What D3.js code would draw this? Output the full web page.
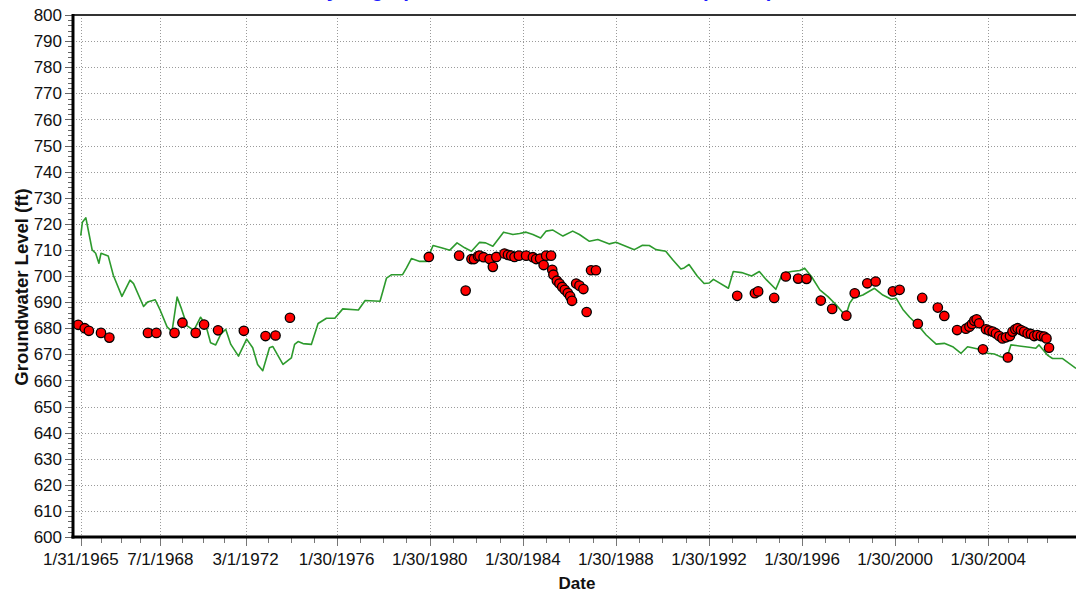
<!DOCTYPE html>
<html>
<head>
<meta charset="utf-8">
<script src="https://cdn.jsdelivr.net/npm/d3@7"></script>
<style>
  html, body { margin: 0; padding: 0; background: #ffffff; }
  svg { display: block; font-family: Arial, "Liberation Sans", sans-serif; }
</style>
</head>
<body>
<svg id="chart" width="1076" height="594"></svg>
<script>
// ---------------- DATA (decimal years) ----------------
const titleText = "Hydrograph for Well 06N/03W-28B001M (NGVD)";
const xAxisTitle = "Date";
const yAxisTitle = "Groundwater Level (ft)";

const tickDates  = ["1965-01-31","1968-07-01","1972-03-01","1976-01-30","1980-01-30","1984-01-30","1988-01-30","1992-01-30","1996-01-30","2000-01-30","2004-01-30"];
const tickLabels = ["1/31/1965","7/1/1968","3/1/1972","1/30/1976","1/30/1980","1/30/1984","1/30/1988","1/30/1992","1/30/1996","1/30/2000","1/30/2004"];
const yTicks = [600,610,620,630,640,650,660,670,680,690,700,710,720,730,740,750,760,770,780,790,800];

// Simulated groundwater level (green line)
const simYears = [1965.08,1965.15,1965.30,1965.44,1965.57,1965.72,1965.86,1965.95,1966.26,1966.48,1966.85,1967.20,1967.35,1967.78,1967.95,1968.28,1968.50,1968.79,1969.00,1969.22,1969.41,1969.65,1969.94,1970.23,1970.45,1970.66,1970.88,1971.10,1971.31,1971.53,1971.86,1972.21,1972.47,1972.68,1972.90,1973.19,1973.33,1973.77,1974.13,1974.27,1974.42,1974.63,1974.99,1975.28,1975.64,1976.00,1976.34,1977.01,1977.30,1977.94,1978.08,1978.22,1978.44,1978.91,1979.08,1979.29,1979.65,1979.94,1980.08,1980.22,1980.58,1980.94,1981.25,1981.58,1981.87,1982.22,1982.48,1982.79,1983.25,1983.65,1983.94,1984.22,1984.51,1984.84,1985.08,1985.37,1985.80,1986.22,1986.51,1986.94,1987.30,1987.80,1988.08,1988.87,1989.22,1989.51,1989.80,1990.22,1990.51,1990.87,1991.01,1991.22,1991.58,1991.87,1992.08,1992.27,1992.91,1993.12,1993.48,1993.91,1994.24,1994.55,1994.95,1995.24,1995.62,1995.98,1996.19,1996.48,1996.84,1997.19,1997.55,1997.95,1998.12,1998.27,1998.69,1999.19,1999.55,1999.91,2000.12,2000.41,2000.70,2001.05,2001.41,2001.84,2002.19,2002.55,2002.91,2003.19,2003.69,2004.05,2004.34,2004.55,2004.87,2005.05,2005.41,2005.84,2006.12,2006.26,2006.62,2006.84,2007.26,2007.85];
const simLevels = [715.5,720.6,722.3,715.9,710.0,708.7,704.9,708.7,707.7,700.3,692.2,698.4,697.1,688.3,690.0,690.9,686.8,680.5,678.7,691.9,687.4,680.9,679.2,684.2,681.3,674.4,673.6,677.7,679.6,673.8,669.3,675.8,672.5,666.1,663.7,672.5,673.0,666.1,668.6,673.8,674.9,674.1,673.8,681.8,683.8,683.8,687.4,687.0,690.6,690.3,694.7,699.2,700.5,700.5,703.1,706.7,705.6,705.6,708.6,711.7,710.8,709.9,712.7,710.8,709.5,712.9,712.7,711.4,716.8,715.9,716.3,716.8,715.9,714.6,717.2,717.6,715.3,717.2,715.9,713.3,714.0,712.3,712.9,710.1,711.8,711.7,710.1,709.5,706.3,702.7,703.1,704.4,699.9,697.1,697.3,698.7,695.3,701.7,701.3,700.0,701.7,698.5,694.9,701.0,701.7,702.1,703.0,699.8,694.7,692.1,688.9,684.7,689.5,691.5,692.7,695.3,692.7,691.1,691.5,687.2,684.2,681.2,677.4,673.9,674.2,672.9,670.4,672.9,671.9,670.4,670.1,669.3,668.4,673.6,673.2,672.7,672.3,673.6,669.7,668.4,668.4,664.6];

// Observed groundwater level (red dots)
const obsYears = [1964.97,1965.25,1965.43,1965.95,1966.31,1967.97,1968.33,1969.11,1969.45,1970.02,1970.38,1970.98,1972.09,1973.02,1973.45,1974.07,
  1980.04,1981.34,1981.62,1981.87,1981.98,1982.15,1982.22,1982.39,1982.65,1982.79,1982.94,1983.29,1983.44,1983.58,1983.72,1983.91,1984.22,1984.51,1984.65,1984.82,1984.97,1985.08,1985.29,1985.34,1985.39,1985.54,1985.65,1985.77,1985.88,1986.01,1986.11,1986.19,1986.37,1986.51,1986.68,1986.82,1987.01,1987.22,
  1993.29,1994.05,1994.19,1994.88,1995.38,1995.91,1996.27,1996.88,1997.37,1997.98,1998.34,1998.88,1999.24,1999.98,2000.27,2001.05,2001.24,2001.91,2002.19,2002.74,2003.12,2003.27,2003.38,2003.48,2003.58,2003.69,2003.85,2003.98,2004.12,2004.27,2004.41,2004.55,2004.69,2004.84,2004.92,2005.01,2005.12,2005.24,2005.34,2005.48,2005.62,2005.77,2005.91,2006.05,2006.19,2006.34,2006.48,2006.58,2006.69];
const obsLevels = [681.3,680.0,679.0,678.2,676.4,678.2,678.2,678.2,682.1,678.2,681.4,679.2,679.0,677.0,677.2,684.0,
  707.3,707.8,694.4,706.5,706.5,707.6,707.8,707.2,706.5,703.5,707.3,708.6,708.1,707.8,707.3,707.8,707.8,707.2,706.5,706.7,704.2,707.8,707.8,702.4,700.5,698.2,697.1,695.8,694.7,693.5,692.2,690.5,697.1,696.3,695.0,686.2,702.2,702.2,
  692.4,693.4,694.1,691.6,699.8,699.0,698.9,690.6,687.4,684.8,693.4,697.2,697.9,694.1,694.7,681.7,691.6,687.9,684.7,679.3,679.8,680.6,681.6,682.9,683.4,681.9,671.9,679.6,679.1,678.7,678.0,677.0,676.1,676.5,668.8,677.0,678.7,679.6,680.0,679.3,678.7,678.0,677.8,677.0,677.4,677.0,676.8,676.1,672.5];

// ---------------- HELPERS ----------------
function dec(v) {
  const yr = Math.floor(v);
  const a = Date.UTC(yr, 0, 1), b = Date.UTC(yr + 1, 0, 1);
  return new Date(a + (v - yr) * (b - a));
}
function toDec(d) {
  const yr = d.getUTCFullYear();
  const a = Date.UTC(yr, 0, 1), b = Date.UTC(yr + 1, 0, 1);
  return yr + (d - a) / (b - a);
}

// ---------------- LAYOUT ----------------
const M = { left: 73, right: 1076, top: 15, bottom: 537 };

const svg = d3.select("#chart");
const x = d3.scaleUtc().domain([dec(1964.747), dec(2007.85)]).range([M.left, M.right]);
const y = d3.scaleLinear().domain([600, 800]).range([M.bottom, M.top]);

const majorDates = tickDates.map(s => new Date(s + "T00:00:00Z"));

// minor x ticks: 3 between each pair of majors, and after the last
const minorDates = [];
for (let i = 0; i < majorDates.length - 1; i++) {
  const a = toDec(majorDates[i]), b = toDec(majorDates[i + 1]);
  for (let k = 1; k < 4; k++) minorDates.push(dec(a + (b - a) * k / 4));
}
{
  const last = toDec(majorDates[majorDates.length - 1]);
  for (let k = 1; k <= 3; k++) minorDates.push(dec(last + 0.84 * k));
}

// title (mostly cropped above the frame, as in the reference)
svg.append("text")
  .attr("x", 312).attr("y", -3.5)
  .attr("fill", "#1a1aff")
  .attr("font-size", 20.5).attr("font-weight", "bold")
  .text(titleText);

// grid
const grid = svg.append("g").attr("stroke", "#9a9a9a").attr("stroke-width", 1).attr("stroke-dasharray", "1,2");
grid.selectAll("line.h").data(yTicks.filter(v => v > 600 && v < 800)).join("line")
  .attr("x1", M.left).attr("x2", M.right)
  .attr("y1", d => Math.round(y(d)) + 0.5).attr("y2", d => Math.round(y(d)) + 0.5);
grid.selectAll("line.v").data(majorDates).join("line")
  .attr("y1", M.top).attr("y2", M.bottom)
  .attr("x1", d => Math.round(x(d)) + 0.5).attr("x2", d => Math.round(x(d)) + 0.5);

// y axis ticks (major every 10, minor every 2)
const yMinor = d3.range(600, 801, 2);
svg.append("g").attr("stroke", "#666").attr("stroke-width", 1)
  .selectAll("line").data(yMinor).join("line")
  .attr("x1", d => d % 10 === 0 ? M.left - 8 : M.left - 5).attr("x2", M.left)
  .attr("y1", d => Math.round(y(d)) + 0.5).attr("y2", d => Math.round(y(d)) + 0.5);

svg.append("g").selectAll("text").data(yTicks).join("text")
  .attr("x", 62).attr("y", d => y(d)).attr("dy", "0.36em")
  .attr("text-anchor", "end").attr("font-size", 17).attr("fill", "#111")
  .text(d => d);

// x axis ticks
const xt = svg.append("g").attr("stroke", "#777").attr("stroke-width", 1);
xt.selectAll("line.mj").data(majorDates).join("line")
  .attr("x1", d => Math.round(x(d)) + 0.5).attr("x2", d => Math.round(x(d)) + 0.5)
  .attr("y1", M.bottom).attr("y2", M.bottom + 9);
xt.selectAll("line.mn").data(minorDates).join("line")
  .attr("x1", d => Math.round(x(d)) + 0.5).attr("x2", d => Math.round(x(d)) + 0.5)
  .attr("y1", M.bottom).attr("y2", M.bottom + 6);

svg.append("g").selectAll("text").data(majorDates).join("text")
  .attr("x", d => x(d)).attr("y", 565)
  .attr("text-anchor", "middle").attr("font-size", 17).attr("fill", "#111")
  .text((d, i) => tickLabels[i]);

// series: line
const line = d3.line().x(d => x(dec(d[0]))).y(d => y(d[1]));
svg.append("path")
  .datum(simYears.map((t, i) => [t, simLevels[i]]))
  .attr("fill", "none").attr("stroke", "#2d9a2d").attr("stroke-width", 1.6)
  .attr("stroke-linejoin", "round")
  .attr("d", line);

// series: dots
svg.append("g").selectAll("circle").data(obsYears.map((t, i) => [t, obsLevels[i]])).join("circle")
  .attr("cx", d => x(dec(d[0]))).attr("cy", d => y(d[1]))
  .attr("r", 4.7)
  .attr("fill", "#ff0000").attr("stroke", "#000").attr("stroke-width", 1.3);

// frame
svg.append("line").attr("x1", M.left).attr("x2", M.right).attr("y1", M.top).attr("y2", M.top)
  .attr("stroke", "#333").attr("stroke-width", 2);
svg.append("line").attr("x1", M.left).attr("x2", M.left).attr("y1", M.top - 1).attr("y2", M.bottom + 1.5)
  .attr("stroke", "#000").attr("stroke-width", 3);
svg.append("line").attr("x1", M.left - 1.5).attr("x2", M.right).attr("y1", M.bottom).attr("y2", M.bottom)
  .attr("stroke", "#000").attr("stroke-width", 3);

// axis titles
svg.append("text")
  .attr("x", 577).attr("y", 589)
  .attr("text-anchor", "middle").attr("font-size", 17).attr("font-weight", "bold").attr("fill", "#111")
  .text(xAxisTitle);
svg.append("text")
  .attr("transform", "translate(28,287) rotate(-90)")
  .attr("text-anchor", "middle").attr("font-size", 18.5).attr("font-weight", "bold").attr("fill", "#111")
  .text(yAxisTitle);
</script>
</body>
</html>
